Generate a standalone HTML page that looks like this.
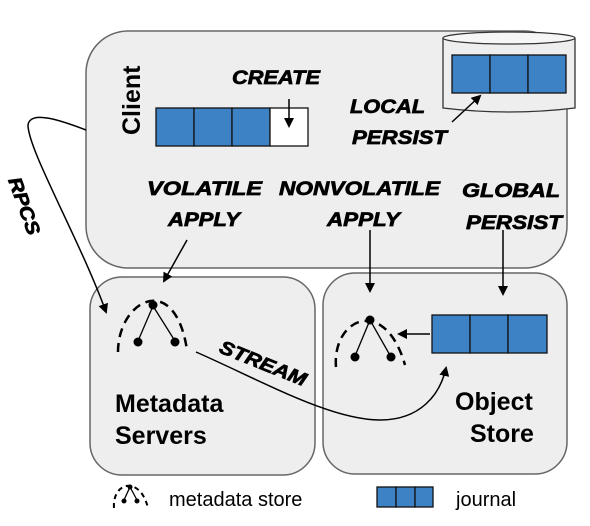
<!DOCTYPE html>
<html><head><style>
body{margin:0;background:#fff;width:590px;height:526px;overflow:hidden}
svg{display:block}
.h{font-family:"Liberation Sans",sans-serif;font-weight:bold;font-style:italic;font-size:19px;fill:#000;stroke:#000;stroke-width:0.7}
.b{font-family:"Liberation Sans",sans-serif;font-weight:bold;font-size:25px;fill:#000}
.n{font-family:"Liberation Sans",sans-serif;font-size:20px;fill:#000}
</style></head><body>
<svg width="590" height="526" viewBox="0 0 590 526" xmlns="http://www.w3.org/2000/svg">
<defs><marker id="a" markerWidth="10" markerHeight="10" refX="8" refY="5" orient="auto" markerUnits="userSpaceOnUse"><path d="M0,0 L10,5 L0,10 z" fill="#000"/></marker></defs>
<rect x="86" y="31" width="481" height="237" rx="42" fill="#eeeeee" stroke="#666" stroke-width="1.5"/>
<rect x="90" y="277" width="225" height="198" rx="32" fill="#eeeeee" stroke="#666" stroke-width="1.5"/>
<rect x="323" y="273" width="244" height="201" rx="32" fill="#eeeeee" stroke="#666" stroke-width="1.5"/>
<path d="M443,38 L443,108 Q509,116 575,108 L575,38" fill="#eeeeee" stroke="#333" stroke-width="1.3"/>
<ellipse cx="509" cy="38" rx="66" ry="6" fill="#f6f6f6" stroke="#333" stroke-width="1.3"/>
<g fill="#3d82c4" stroke="#111" stroke-width="1.3">
<rect x="452" y="55" width="38" height="38"/><rect x="490" y="55" width="38" height="38"/><rect x="528" y="55" width="38" height="38"/>
<rect x="156" y="108" width="38" height="38"/><rect x="194" y="108" width="38" height="38"/><rect x="232" y="108" width="38" height="38"/>
<rect x="270" y="108" width="38" height="38" fill="#fff"/>
<rect x="432" y="315" width="38" height="38"/><rect x="470" y="315" width="38" height="38"/><rect x="508" y="315" width="39" height="38"/>
<rect x="377" y="487" width="19" height="20"/><rect x="396" y="487" width="19" height="20"/><rect x="415" y="487" width="18" height="20"/>
</g>
<text class="b" transform="translate(140,135) rotate(-90)">Client</text>
<text class="h" x="232" y="84" textLength="88" lengthAdjust="spacingAndGlyphs">CREATE</text>
<text class="h" x="350" y="113" textLength="75" lengthAdjust="spacingAndGlyphs">LOCAL</text>
<text class="h" x="352" y="144" textLength="95" lengthAdjust="spacingAndGlyphs">PERSIST</text>
<text class="h" x="147" y="195" textLength="115" lengthAdjust="spacingAndGlyphs">VOLATILE</text>
<text class="h" x="168" y="226" textLength="72" lengthAdjust="spacingAndGlyphs">APPLY</text>
<text class="h" x="279" y="195" textLength="161" lengthAdjust="spacingAndGlyphs">NONVOLATILE</text>
<text class="h" x="327" y="226" textLength="73" lengthAdjust="spacingAndGlyphs">APPLY</text>
<text class="h" x="462" y="197" textLength="98" lengthAdjust="spacingAndGlyphs">GLOBAL</text>
<text class="h" x="466" y="229" textLength="96" lengthAdjust="spacingAndGlyphs">PERSIST</text>
<text class="h" transform="translate(8,180) rotate(70)" textLength="60" lengthAdjust="spacingAndGlyphs">RPCS</text>
<text class="h" transform="translate(218,352) rotate(22)" textLength="92" lengthAdjust="spacingAndGlyphs">STREAM</text>
<text class="b" x="115" y="412">Metadata</text>
<text class="b" x="115" y="444">Servers</text>
<text class="b" x="455" y="410">Object</text>
<text class="b" x="470" y="442">Store</text>
<text class="n" x="169" y="506">metadata store</text>
<text class="n" x="456" y="506">journal</text>
<g stroke="#000" stroke-width="1.5" fill="none">
<line x1="289" y1="99" x2="289" y2="126" marker-end="url(#a)"/>
<line x1="452" y1="122" x2="480" y2="96" marker-end="url(#a)"/>
<line x1="187" y1="240" x2="164" y2="281" marker-end="url(#a)"/>
<line x1="370" y1="230" x2="370" y2="291" marker-end="url(#a)"/>
<line x1="503" y1="230" x2="503" y2="294" marker-end="url(#a)"/>
<line x1="430" y1="334" x2="399" y2="334" marker-end="url(#a)"/>
<path d="M86,130 C60,120 30,110 28,125 C28,150 80,240 106,312" marker-end="url(#a)"/>
<path d="M196,352 C260,380 330,420 380,420 C420,420 440,395 446,368" marker-end="url(#a)"/>
</g>
<g stroke="#000" stroke-width="1.3">
<line x1="153" y1="306" x2="138" y2="341"/><line x1="153" y1="306" x2="175" y2="341"/>
<line x1="370" y1="320" x2="355" y2="356"/><line x1="370" y1="320" x2="391" y2="357"/>
<line x1="130" y1="487" x2="124" y2="500"/><line x1="130" y1="487" x2="137" y2="500"/>
</g>
<g fill="#000">
<circle cx="153" cy="305" r="4.5"/><circle cx="138" cy="342" r="4.5"/><circle cx="175" cy="342" r="4.5"/>
<circle cx="370" cy="320" r="4.5"/><circle cx="355" cy="357" r="4.5"/><circle cx="391" cy="357" r="4.5"/>
<circle cx="130" cy="487" r="2.5"/><circle cx="124" cy="501" r="2.5"/><circle cx="137" cy="501" r="2.5"/>
</g>
<g stroke="#000" stroke-width="2.5" fill="none" stroke-dasharray="9,6">
<path d="M118,352 C118,300 175,270 187,350"/>
<path d="M336,367 C332,318 385,295 405,365"/>
<path d="M114,508 C112,482 140,475 148,508" stroke-dasharray="5,4" stroke-width="2"/>
</g>
</svg>
</body></html>
